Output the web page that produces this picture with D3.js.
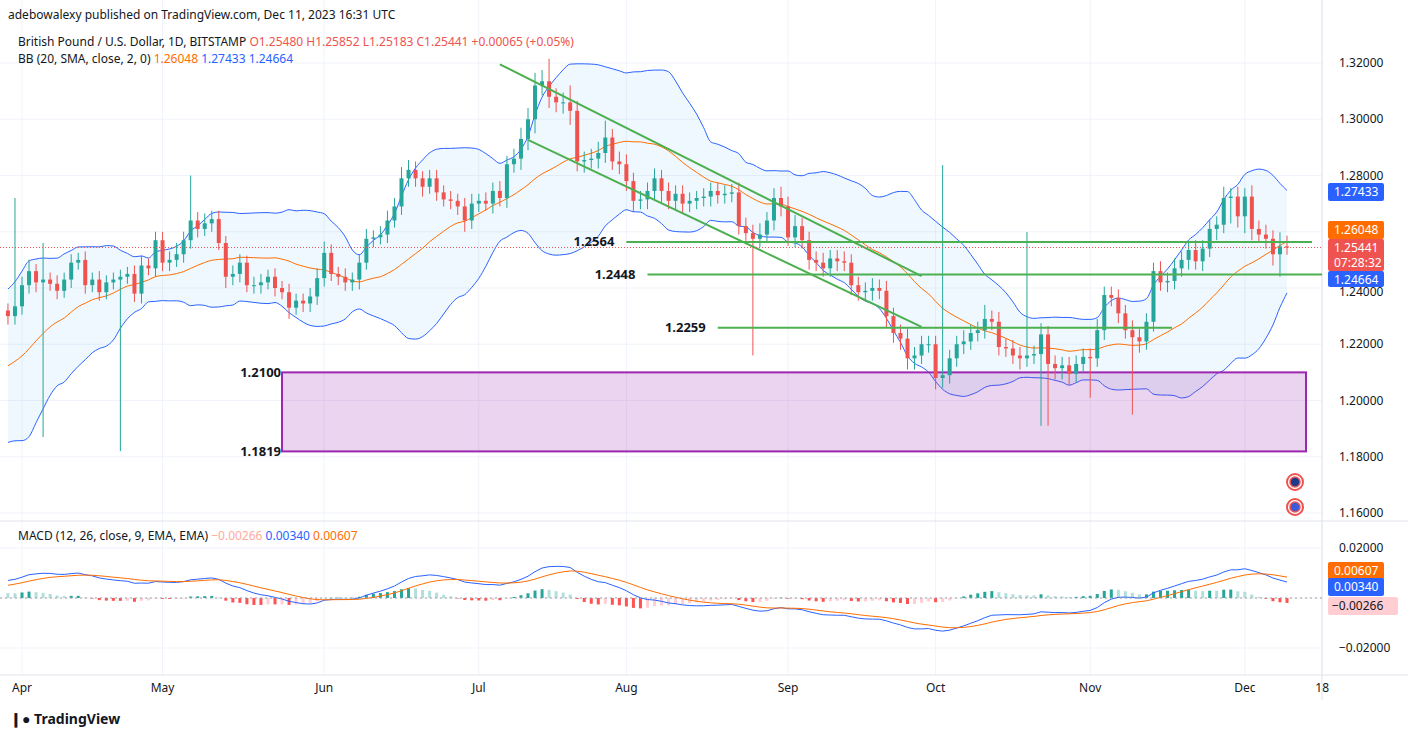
<!DOCTYPE html>
<html><head><meta charset="utf-8">
<script src="https://cdn.jsdelivr.net/npm/d3@7"></script>
<style>
body{margin:0;background:#fff;font-family:"Noto Sans",Roboto,sans-serif;}
svg text{font-family:"Noto Sans",Roboto,sans-serif;}
</style></head><body>
<svg id="c" width="1408" height="737"></svg>
<script>
// daily closes, weekdays only (Feb/Mar are warm-up for the indicators)
var closeFeb = [1.2040,1.2100,1.2050,1.1970,1.1945,1.2060,1.2055];
var closeMar = [1.1960,1.2020,1.2015,1.2030,1.1950,1.1860,1.1900,1.1950,1.2040,1.2150,1.2070,1.2110,1.2170,1.2180,1.2240,1.2290,1.2225,1.2175,1.2225,1.2270,1.2320,1.2300,1.2335];
var closeApr = [1.2410,1.2460,1.2420,1.2430,1.2415,1.2390,1.2430,1.2490,1.2500,1.2410,1.2430,1.2385,1.2420,1.2430,1.2440,1.2450,1.2380,1.2480,1.2470,1.2570];
var closeMay = [1.2490,1.2500,1.2520,1.2570,1.2640,1.2610,1.2630,1.2645,1.2560,1.2440,1.2450,1.2490,1.2410,1.2410,1.2420,1.2440,1.2400,1.2385,1.2330,1.2355,1.2345,1.2370,1.2435];
var closeJun = [1.2525,1.2450,1.2440,1.2420,1.2430,1.2490,1.2575,1.2580,1.2590,1.2640,1.2690,1.2790,1.2820,1.2790,1.2760,1.2790,1.2740,1.2715,1.2710,1.2690,1.2640,1.2700];
var closeJul = [1.2710,1.2700,1.2745,1.2720,1.2840,1.2860,1.2930,1.3000,1.3120,1.3135,1.3080,1.3060,1.3060,1.3030,1.2850,1.2855,1.2860,1.2880,1.2935,1.2850,1.2840];
var closeAug = [1.2780,1.2710,1.2715,1.2745,1.2790,1.2745,1.2710,1.2735,1.2700,1.2710,1.2720,1.2725,1.2745,1.2730,1.2735,1.2740,1.2620,1.2595,1.2575,1.2590,1.2640,1.2720,1.2690];
var closeSep = [1.2580,1.2620,1.2570,1.2500,1.2490,1.2470,1.2505,1.2495,1.2490,1.2410,1.2385,1.2390,1.2400,1.2390,1.2300,1.2240,1.2220,1.2150,1.2160,1.2200,1.2200];
var closeOct = [1.2080,1.2090,1.2150,1.2200,1.2210,1.2240,1.2250,1.2290,1.2280,1.2190,1.2185,1.2160,1.2150,1.2160,1.2165,1.2235,1.2130,1.2115,1.2125,1.2095,1.2130,1.2155];
var closeNov = [1.2150,1.2250,1.2375,1.2365,1.2310,1.2250,1.2225,1.2210,1.2280,1.2460,1.2420,1.2425,1.2470,1.2500,1.2535,1.2495,1.2540,1.2610,1.2625,1.2720,1.2725,1.2655];
var closeDec = [1.2725,1.2610,1.2590,1.2575,1.2520,1.2548,1.2544];

// wick lengths in pips above / below the body, from Mar 30 on
var upMarTail = [25,385], dnMarTail = [30,30];
var upApr = [30,40,25,130,25,30,25,30,25,30,25,30,25,25,25,25,30,35,25,30];
var dnApr = [30,30,35,550,25,30,25,30,25,30,25,30,25,25,610,25,30,35,25,30];
var upMay = [30,30,40,30,160,30,35,30,30,25,30,30,25,30,30,25,30,25,30,25,25,30,35];
var dnMay = [30,30,25,30,30,30,25,30,25,40,30,30,25,30,30,25,30,25,40,25,30,30,30];
var upJun = [40,30,25,30,25,30,35,25,30,35,30,40,35,30,25,30,30,25,30,25,30,35];
var dnJun = [30,25,30,30,30,35,25,30,25,30,25,30,30,30,35,25,30,25,30,30,40,30];
var upJul = [25,30,30,35,30,35,40,40,45,40,80,30,35,60,35,30,35,40,60,30,35];
var dnJul = [30,25,35,30,35,30,40,40,50,35,40,35,40,50,35,40,30,35,35,30,35];
var upAug = [35,30,30,30,35,30,30,30,30,30,25,30,30,30,30,30,35,30,30,40,30,35,40];
var dnAug = [35,40,30,35,35,40,30,30,35,30,30,30,35,30,30,30,30,35,415,30,30,35,35];
var upSep = [35,40,30,30,30,35,30,30,35,30,30,30,35,30,35,30,30,35,30,30,30];
var dnSep = [30,35,30,35,30,30,30,35,30,35,30,30,35,30,40,35,40,40,40,30,30];
var upOct = [30,747,30,30,40,30,30,50,30,35,30,30,30,439,30,40,30,30,30,30,30,30];
var dnOct = [40,35,30,30,35,30,30,30,30,30,30,30,40,30,30,255,220,40,40,40,30,30];
var upNov = [30,40,30,30,30,30,35,30,30,30,35,30,35,30,30,35,30,35,30,40,30,35];
var dnNov = [140,30,35,30,35,30,275,40,30,35,30,35,30,30,35,30,35,30,40,30,90,40];
var upDec = [30,40,30,35,30,50,38];
var dnDec = [60,40,30,35,40,80,26];

var priceTicks = [1.32,1.30,1.28,1.26,1.24,1.22,1.20,1.18,1.16];
var macdTicks = [0.02,0,-0.02];
var timeLabels = [["2023-04-03","Apr"],["2023-05-01","May"],["2023-06-01","Jun"],["2023-07-03","Jul"],["2023-08-01","Aug"],["2023-09-01","Sep"],["2023-10-02","Oct"],["2023-11-01","Nov"],["2023-12-01","Dec"],["2023-12-18","18"]];
var levels = [[1.2564,"2023-08-01"],[1.2448,"2023-08-04"],[1.2259,"2023-08-20"]];
var zoneTop = 1.2100, zoneBottom = 1.1819, zoneFrom = "2023-05-24";
var trendUpper = [["2023-07-06",1.3195],["2023-09-28",1.2442]];
var trendLower = [["2023-07-12",1.2927],["2023-09-28",1.2262]];
var lastOpen = 1.25480, lastClose = 1.25441;

var closes = [].concat(closeFeb,closeMar,closeApr,closeMay,closeJun,closeJul,closeAug,closeSep,closeOct,closeNov,closeDec);
var ups = [].concat(upMarTail,upApr,upMay,upJun,upJul,upAug,upSep,upOct,upNov,upDec);
var dns = [].concat(dnMarTail,dnApr,dnMay,dnJun,dnJul,dnAug,dnSep,dnOct,dnNov,dnDec);

// weekday dates
var dates = [], d = new Date(2023,1,20);
while (dates.length < closes.length) {
  if (d.getDay() != 0 && d.getDay() != 6) dates.push(new Date(d));
  d.setDate(d.getDate()+1);
}
function idxOf(s) {
  var t = new Date(s+"T00:00:00");
  var dd = new Date(dates[0]), n = 0;
  while (dd < t) { dd.setDate(dd.getDate()+1); if (dd.getDay()!=0 && dd.getDay()!=6) n++; }
  return n;
}
var iApr = idxOf("2023-04-03"), drawFrom = iApr - 2;

var bars = closes.map(function (c, i) {
  var o = i == closes.length-1 ? lastOpen : (i ? closes[i-1] : c);
  var b = {i:i, o:o, c:c};
  var k = i - drawFrom;
  if (k >= 0) { b.h = Math.max(o,c) + ups[k]/10000; b.l = Math.min(o,c) - dns[k]/10000; }
  return b;
});

// Bollinger 20,2 and MACD 12,26,9
var bb = closes.map(function (c, i) {
  if (i < 19) return null;
  var w = closes.slice(i-19, i+1), m = d3.mean(w);
  var sd = Math.sqrt(d3.mean(w, function (v) { return (v-m)*(v-m); }));
  return {i:i, m:m, u:m+2*sd, l:m-2*sd};
}).filter(Boolean);
function ema(arr, n) { var k = 2/(n+1), out = [], p = arr[0]; arr.forEach(function (v) { p = v*k + p*(1-k); out.push(p); }); return out; }
var e12 = ema(closes,12), e26 = ema(closes,26);
var macd = closes.map(function (c, i) { return e12[i]-e26[i]; });
var sig = ema(macd, 9);

var svg = d3.select("#c");
var W = 1322;
var x = d3.scaleLinear().domain([iApr, iApr+180]).range([22, 1287]);
var y = d3.scaleLinear().domain([1.16, 1.32]).range([513, 63]);
var ym = d3.scaleLinear().domain([-0.02, 0.02]).range([648, 548]);

var defs = svg.append("defs");
defs.append("clipPath").attr("id","cm").append("rect").attr("x",0).attr("y",28).attr("width",W).attr("height",492);
defs.append("clipPath").attr("id","cb").append("rect").attr("x",0).attr("y",523).attr("width",W).attr("height",150);

var grid = svg.append("g").attr("stroke","#f0f3fa");
priceTicks.forEach(function (t) { grid.append("line").attr("x1",0).attr("x2",W).attr("y1",y(t)).attr("y2",y(t)); });
macdTicks.forEach(function (t) { grid.append("line").attr("x1",0).attr("x2",W).attr("y1",ym(t)).attr("y2",ym(t)); });
timeLabels.forEach(function (t) { var xx = x(idxOf(t[0])); grid.append("line").attr("x1",xx).attr("x2",xx).attr("y1",0).attr("y2",675); });

svg.append("line").attr("x1",W).attr("x2",W).attr("y1",0).attr("y2",700).attr("stroke","#e0e3eb");
svg.append("line").attr("x1",0).attr("x2",1408).attr("y1",521).attr("y2",521).attr("stroke","#e0e3eb");
svg.append("line").attr("x1",0).attr("x2",1408).attr("y1",675).attr("y2",675).attr("stroke","#e0e3eb");

var main = svg.append("g").attr("clip-path","url(#cm)");
var vis = bb.filter(function (b) { return b.i >= drawFrom; });
main.append("path").datum(vis).attr("fill","rgba(33,150,243,0.07)")
  .attr("d", d3.area().x(function (b) { return x(b.i); }).y0(function (b) { return y(b.l); }).y1(function (b) { return y(b.u); }).curve(d3.curveMonotoneX));
[["u","#2962ff"],["l","#2962ff"],["m","#ff6d00"]].forEach(function (s) {
  main.append("path").datum(vis).attr("fill","none").attr("stroke",s[1]).attr("stroke-width",1)
    .attr("d", d3.line().x(function (b) { return x(b.i); }).y(function (b) { return y(b[s[0]]); }).curve(d3.curveMonotoneX));
});

// purple zone
var zx = x(idxOf(zoneFrom));
main.append("rect").attr("x",zx).attr("y",y(zoneTop)).attr("width",1306-zx).attr("height",y(zoneBottom)-y(zoneTop))
  .attr("fill","rgba(156,39,176,0.2)").attr("stroke","#9c27b0").attr("stroke-width",2);

// candles
var cb = bars.filter(function (b) { return b.i >= drawFrom; });
var cg = main.selectAll("g.cd").data(cb).enter().append("g");
cg.append("line").attr("x1",function (b) { return x(b.i); }).attr("x2",function (b) { return x(b.i); })
  .attr("y1",function (b) { return y(b.h); }).attr("y2",function (b) { return y(b.l); })
  .attr("stroke",function (b) { return b.c >= b.o ? "#26a69a" : "#ef5350"; });
cg.append("rect").attr("x",function (b) { return x(b.i)-2; }).attr("width",4)
  .attr("y",function (b) { return y(Math.max(b.o,b.c)); })
  .attr("height",function (b) { return Math.max(1, y(Math.min(b.o,b.c)) - y(Math.max(b.o,b.c))); })
  .attr("fill",function (b) { return b.c >= b.o ? "#26a69a" : "#ef5350"; });

// trend lines and levels
[trendUpper, trendLower].forEach(function (t) {
  main.append("line").attr("x1",x(idxOf(t[0][0]))).attr("y1",y(t[0][1])).attr("x2",x(idxOf(t[1][0]))).attr("y2",y(t[1][1]))
    .attr("stroke","#4caf50").attr("stroke-width",2);
});
var lvEnd = [1312, 1322, 1172];
levels.forEach(function (l, k) {
  var x1 = x(idxOf(l[1]));
  main.append("line").attr("x1",x1).attr("x2",lvEnd[k]).attr("y1",y(l[0])).attr("y2",y(l[0])).attr("stroke","#4caf50").attr("stroke-width",2);
  svg.append("text").attr("x",x1-12).attr("y",y(l[0])+4).attr("text-anchor","end").attr("font-size",13).attr("font-weight","bold").attr("fill","#131722").text(l[0].toFixed(4));
});
svg.append("text").attr("x",zx-1).attr("y",y(zoneTop)+5).attr("text-anchor","end").attr("font-size",13).attr("font-weight","bold").attr("fill","#131722").text(zoneTop.toFixed(4));
svg.append("text").attr("x",zx-1).attr("y",y(zoneBottom)+5).attr("text-anchor","end").attr("font-size",13).attr("font-weight","bold").attr("fill","#131722").text(zoneBottom.toFixed(4));

// last price dotted line
svg.append("line").attr("x1",0).attr("x2",W).attr("y1",y(lastClose)).attr("y2",y(lastClose)).attr("stroke","#ef5350").attr("stroke-dasharray","1,2");

// flags
[482,507].forEach(function (fy) {
  svg.append("circle").attr("cx",1295).attr("cy",fy).attr("r",8).attr("fill","#fff").attr("stroke","#ef5350").attr("stroke-width",2);
  svg.append("circle").attr("cx",1295).attr("cy",fy).attr("r",5).attr("fill", fy==482 ? "#1e3a8a" : "#3b5bdb").attr("stroke","#ef5350").attr("stroke-width",1.5);
});

// price axis (1.26000 sits under the badges)
priceTicks.forEach(function (t) {
  if (t == 1.26) return;
  svg.append("text").attr("x",1339).attr("y",y(t)+(t == 1.24 ? 8 : 4)).attr("font-size",12).attr("fill","#131722").text(t.toFixed(5));
});
function badge(yc, h, bg, lines, fg) {
  svg.append("rect").attr("x",1328).attr("y",yc-h/2).attr("width",56).attr("height",h).attr("rx",2).attr("fill",bg);
  lines.forEach(function (s, k) {
    svg.append("text").attr("x",1334).attr("y",yc-h/2+13+k*15).attr("font-size",12).attr("fill",fg||"#fff").text(s);
  });
}
badge(192, 18, "#2962ff", ["1.27433"]);
badge(230, 18, "#ff6d00", ["1.26048"]);
badge(255, 32, "#ef5350", ["1.25441","07:28:32"]);
badge(279, 16, "#2962ff", ["1.24664"]);

// MACD panel
var bot = svg.append("g").attr("clip-path","url(#cb)");
var hist = macd.map(function (m, i) { return {i:i, v:m-sig[i]}; }).filter(function (h) { return h.i >= drawFrom; });
bot.selectAll("rect.h").data(hist).enter().append("rect")
  .attr("x",function (h) { return x(h.i)-1.5; }).attr("width",3)
  .attr("y",function (h) { return Math.min(ym(h.v), ym(0)); })
  .attr("height",function (h) { return Math.max(0.5, Math.abs(ym(h.v)-ym(0))); })
  .attr("fill",function (h) {
    var p = h.i ? macd[h.i-1]-sig[h.i-1] : 0;
    if (h.v >= 0) return h.v >= p ? "#26a69a" : "#b2dfdb";
    return h.v <= p ? "#ff5252" : "#ffcdd2";
  });
[[macd,"#2962ff"],[sig,"#ff6d00"]].forEach(function (s) {
  var pts = s[0].map(function (v, i) { return [i, v]; }).filter(function (p) { return p[0] >= drawFrom; });
  bot.append("path").datum(pts).attr("fill","none").attr("stroke",s[1]).attr("stroke-width",1)
    .attr("d", d3.line().x(function (p) { return x(p[0]); }).y(function (p) { return ym(p[1]); }));
});
svg.append("line").attr("x1",0).attr("x2",W).attr("y1",ym(0)).attr("y2",ym(0)).attr("stroke","#9e9e9e").attr("stroke-dasharray","2,3");
[[0.02,"0.02000"],[-0.02,"\u22120.02000"]].forEach(function (t) {
  svg.append("text").attr("x",1339).attr("y",ym(t[0])+4).attr("font-size",12).attr("fill","#131722").text(t[1]);
});
badge(571, 18, "#ff6d00", ["0.00607"]);
badge(587, 18, "#2962ff", ["0.00340"]);
svg.append("rect").attr("x",1328).attr("y",597).attr("width",70).attr("height",18).attr("rx",2).attr("fill","#ffcdd2");
svg.append("text").attr("x",1332).attr("y",610).attr("font-size",12).attr("fill","#131722").text("\u22120.00266");

// time axis
timeLabels.forEach(function (t) {
  svg.append("text").attr("x",x(idxOf(t[0]))).attr("y",692).attr("text-anchor","middle").attr("font-size",12).attr("fill","#131722").text(t[1]);
});

// header texts
svg.append("text").attr("x",8).attr("y",19).attr("font-size",12).attr("fill","#131722").text("adebowalexy published on TradingView.com, Dec 11, 2023 16:31 UTC");
var l1 = svg.append("text").attr("x",18).attr("y",46).attr("font-size",12).attr("fill","#131722");
l1.append("tspan").text("British Pound / U.S. Dollar, 1D, BITSTAMP  ");
l1.append("tspan").attr("fill","#ef5350").text("O1.25480  H1.25852  L1.25183  C1.25441  +0.00065 (+0.05%)");
var l2 = svg.append("text").attr("x",18).attr("y",63).attr("font-size",12).attr("fill","#131722");
l2.append("tspan").text("BB (20, SMA, close, 2, 0)  ");
l2.append("tspan").attr("fill","#ff6d00").text("1.26048  ");
l2.append("tspan").attr("fill","#2962ff").text("1.27433  1.24664");
var l3 = svg.append("text").attr("x",18).attr("y",540).attr("font-size",12).attr("fill","#131722");
l3.append("tspan").text("MACD (12, 26, close, 9, EMA, EMA)  ");
l3.append("tspan").attr("fill","#ffab9f").text("\u22120.00266  ");
l3.append("tspan").attr("fill","#2962ff").text("0.00340  ");
l3.append("tspan").attr("fill","#ff6d00").text("0.00607");
svg.append("text").attr("x",10).attr("y",724).attr("font-size",14).attr("font-weight","bold").attr("fill","#131722").text("\u2759\u25CF TradingView");
</script></body></html>
